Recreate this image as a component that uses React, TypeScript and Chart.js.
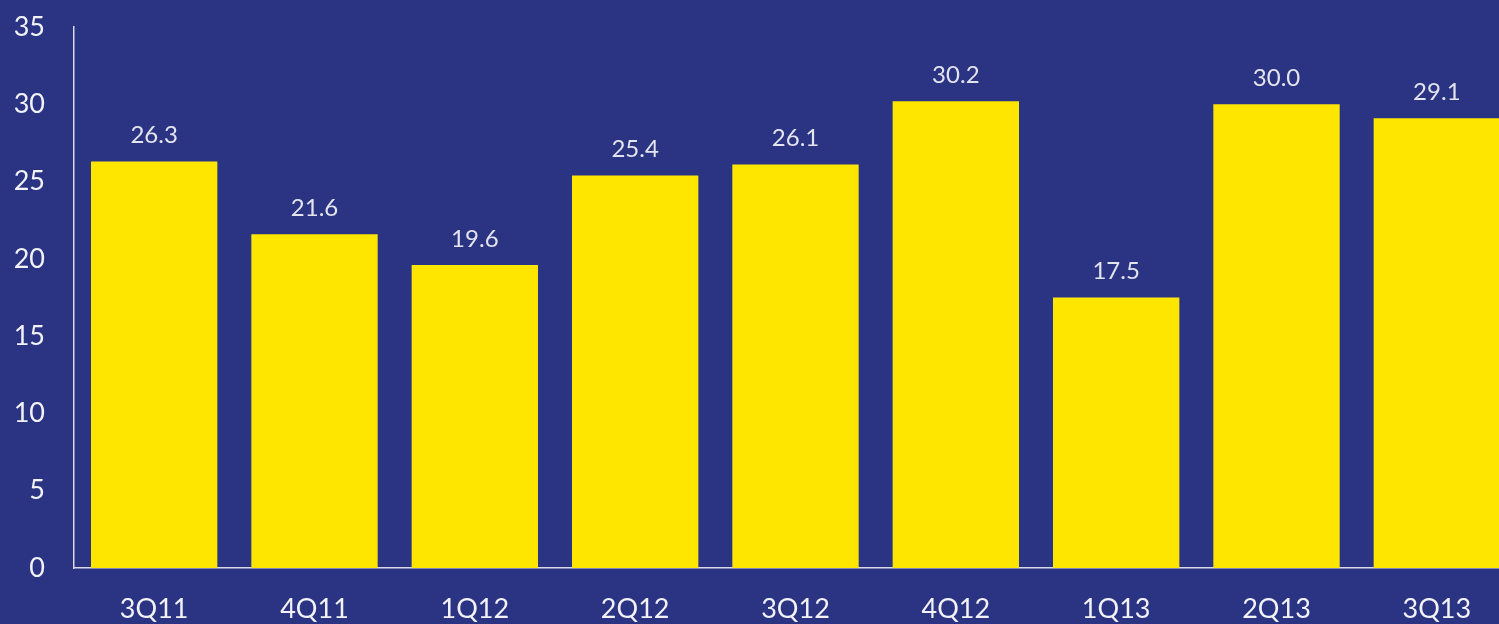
import React, { useEffect, useRef } from "react";
import { Chart, registerables } from "chart.js";

Chart.register(...registerables);

const categories = ["3Q11", "4Q11", "1Q12", "2Q12", "3Q12", "4Q12", "1Q13", "2Q13", "3Q13"];
const values = [26.3, 21.6, 19.6, 25.4, 26.1, 30.2, 17.5, 30.0, 29.1];
const yTicks = [0, 5, 10, 15, 20, 25, 30, 35];

const BG = "#2a3483";
const BAR = "#ffe600";
const FONT = "Lato, 'Open Sans', sans-serif";

const valueLabels = {
  id: "valueLabels",
  afterDatasetsDraw(chart: any) {
    const ctx = chart.ctx;
    const meta = chart.getDatasetMeta(0);
    ctx.save();
    ctx.fillStyle = "#e4e4ee";
    ctx.font = `24px ${FONT}`;
    ctx.textAlign = "center";
    ctx.textBaseline = "alphabetic";
    meta.data.forEach((el: any, i: number) => {
      ctx.fillText(values[i].toFixed(1), el.x, el.y - 18.5);
    });
    ctx.restore();
  },
};

export default function App() {
  const ref = useRef<HTMLCanvasElement>(null);
  useEffect(() => {
    if (!ref.current) return;
    const chart = new Chart(ref.current, {
      type: "bar",
      data: {
        labels: categories,
        datasets: [
          {
            data: values,
            backgroundColor: BAR,
            borderWidth: 0,
            categoryPercentage: 1,
            barPercentage: 0.788,
          },
        ],
      },
      options: {
        animation: false,
        responsive: true,
        maintainAspectRatio: false,
        layout: { padding: { top: 27, left: 0, right: 0, bottom: 0 } },
        plugins: {
          legend: { display: false },
          tooltip: { enabled: false },
        },
        scales: {
          x: {
            grid: { display: false },
            border: { display: true, color: "#d8d8e6", width: 1.5 },
            ticks: {
              color: "#f2f2f7",
              font: { family: FONT, size: 27 },
              padding: 17,
              maxRotation: 0,
            },
            afterFit: (s: any) => {
              s.height = 56;
              s.paddingLeft = 0;
              s.paddingRight = 0;
            },
          },
          y: {
            min: 0,
            max: 35,
            afterBuildTicks: (s: any) => {
              s.ticks = yTicks.map((v) => ({ value: v }));
            },
            grid: { display: false },
            border: { display: true, color: "#d8d8e6", width: 1.5 },
            ticks: {
              color: "#f2f2f7",
              font: { family: FONT, size: 27 },
              padding: 21,
            },
            afterFit: (s: any) => {
              s.width = 74;
              s.paddingTop = 0;
              s.paddingBottom = 0;
            },
          },
        },
      },
      plugins: [valueLabels],
    });
    return () => chart.destroy();
  }, []);

  return (
    <div
      style={{
        position: "fixed",
        left: 0,
        top: 0,
        width: 1499,
        height: 624,
        overflow: "hidden",
        background: BG,
      }}
    >
      <div style={{ position: "relative", width: 1517, height: 624 }}>
        <canvas ref={ref} />
      </div>
    </div>
  );
}
